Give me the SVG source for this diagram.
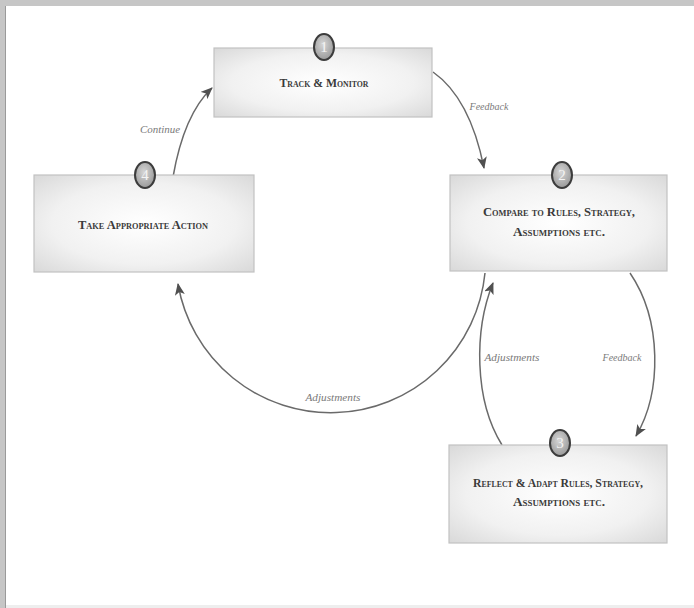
<svg xmlns="http://www.w3.org/2000/svg" width="694" height="608" viewBox="0 0 694 608">
  <style>
    .box { fill: url(#boxFill); stroke: #c2c2c2; stroke-width: 1.2; }
    .title { font-family: "Liberation Serif", "DejaVu Serif", serif; font-size: 12px; font-variant: small-caps; font-weight: bold; fill: #3a3a3a; text-anchor: middle; }
    .badge { fill: url(#badgeFill); stroke: #3c3c3c; stroke-width: 2; }
    .num { font-family: "Liberation Serif", "DejaVu Serif", serif; font-size: 15px; fill: #f4f4f4; text-anchor: middle; }
    .conn { fill: none; stroke: #6a6a6a; stroke-width: 1.5; marker-end: url(#head); }
    .lbl { font-family: "Liberation Serif", "DejaVu Serif", serif; font-size: 10.5px; font-style: italic; fill: #7a7a7a; text-anchor: middle; }
  </style>
  <defs>
    <radialGradient id="boxFill" cx="0.5" cy="0.5" r="0.7">
      <stop offset="0" stop-color="#ffffff"/>
      <stop offset="0.6" stop-color="#f1f1f1"/>
      <stop offset="1" stop-color="#d9d9d9"/>
    </radialGradient>
    <radialGradient id="badgeFill" cx="0.45" cy="0.4" r="0.6">
      <stop offset="0" stop-color="#d6d6d6"/>
      <stop offset="1" stop-color="#9a9a9a"/>
    </radialGradient>
    <marker id="head" viewBox="0 0 12 10" refX="11" refY="5" markerWidth="12" markerHeight="10" markerUnits="userSpaceOnUse" orient="auto">
      <path d="M0,0 L12,5 L0,10 L3,5 Z" fill="#505050"/>
    </marker>
  </defs>

  <!-- page frame -->
  <rect x="0" y="0" width="694" height="608" fill="#c6c6c6"/>
  <rect x="6" y="6" width="688" height="599" fill="#ffffff"/>
  <rect x="6" y="605" width="688" height="3" fill="#eeeeee"/>
  <line x1="5.5" y1="6" x2="5.5" y2="608" stroke="#9a9a9a" stroke-width="1"/>

  <!-- connectors -->
  <g id="connectors">
    <path class="conn" d="M173,177 Q184,114 212,88"/>
    <path class="conn" d="M433,72 Q470,98 484,168"/>
    <path class="conn" d="M630,273 C662,320 662,392 636,436"/>
    <path class="conn" d="M502,445 C474,400 474,330 493,283"/>
    <path class="conn" d="M485,273 A155,155 0 0 1 178,284"/>
    <text class="lbl" x="160" y="133" textLength="40" lengthAdjust="spacingAndGlyphs">Continue</text>
    <text class="lbl" x="489" y="110" textLength="39" lengthAdjust="spacingAndGlyphs">Feedback</text>
    <text class="lbl" x="622" y="361" textLength="39" lengthAdjust="spacingAndGlyphs">Feedback</text>
    <text class="lbl" x="512" y="361" textLength="55" lengthAdjust="spacingAndGlyphs">Adjustments</text>
    <text class="lbl" x="333" y="401" textLength="55" lengthAdjust="spacingAndGlyphs">Adjustments</text>
  </g>

  <g id="node1">
    <rect class="box" x="214" y="48" width="218" height="69"/>
    <text class="title" x="324" y="87" textLength="89" lengthAdjust="spacingAndGlyphs">Track &amp; Monitor</text>
    <ellipse class="badge" cx="324" cy="47" rx="10" ry="13"/>
    <text class="num" x="324" y="52">1</text>
  </g>

  <g id="node2">
    <rect class="box" x="450" y="175" width="217" height="96"/>
    <text class="title" x="559" y="216" textLength="152" lengthAdjust="spacingAndGlyphs">Compare to Rules, Strategy,</text>
    <text class="title" x="559" y="236" textLength="92" lengthAdjust="spacingAndGlyphs">Assumptions etc.</text>
    <ellipse class="badge" cx="562" cy="175" rx="10" ry="13"/>
    <text class="num" x="562" y="180">2</text>
  </g>

  <g id="node3">
    <rect class="box" x="449" y="445" width="218" height="98"/>
    <text class="title" x="558" y="487" textLength="170" lengthAdjust="spacingAndGlyphs">Reflect &amp; Adapt Rules, Strategy,</text>
    <text class="title" x="559" y="506" textLength="92" lengthAdjust="spacingAndGlyphs">Assumptions etc.</text>
    <ellipse class="badge" cx="560" cy="443" rx="10" ry="13"/>
    <text class="num" x="560" y="448">3</text>
  </g>

  <g id="node4">
    <rect class="box" x="34" y="175" width="220" height="97"/>
    <text class="title" x="143" y="229" textLength="130" lengthAdjust="spacingAndGlyphs">Take Appropriate Action</text>
    <ellipse class="badge" cx="145" cy="175" rx="10" ry="13"/>
    <text class="num" x="145" y="180">4</text>
  </g>
</svg>
